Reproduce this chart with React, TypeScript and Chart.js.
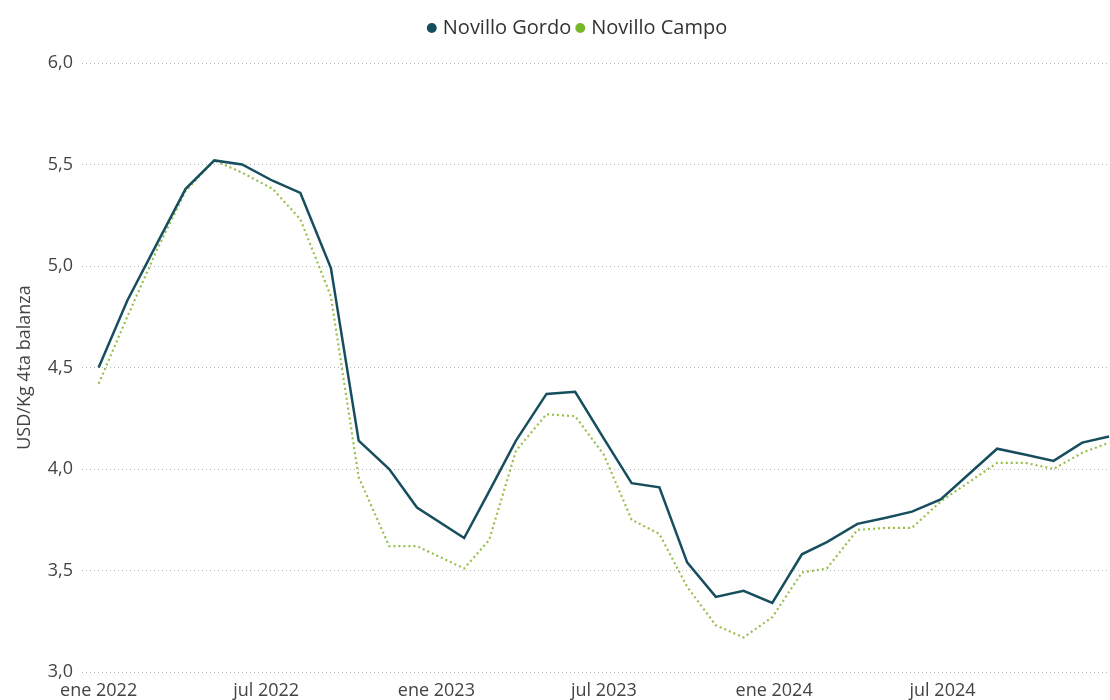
import React, { useEffect, useRef } from "react";
import { Chart, registerables } from "chart.js";

Chart.register(...registerables);

const pointDates = [
  "2022-01-01", "2022-02-01", "2022-03-05", "2022-04-05", "2022-05-06", "2022-06-05",
  "2022-07-08", "2022-08-07", "2022-09-09", "2022-10-09", "2022-11-11", "2022-12-11",
  "2023-01-31", "2023-02-27", "2023-03-28", "2023-04-30", "2023-05-31", "2023-07-01",
  "2023-07-31", "2023-08-30", "2023-09-29", "2023-10-30", "2023-11-29", "2023-12-30",
  "2024-01-31", "2024-02-27", "2024-03-31", "2024-05-01", "2024-05-29", "2024-06-29",
  "2024-08-29", "2024-09-29", "2024-10-29", "2024-11-29", "2024-12-28",
];

const novilloGordo = [
  4.50, 4.83, 5.11, 5.38, 5.52, 5.50, 5.42, 5.36, 4.99, 4.14, 4.00, 3.81,
  3.66, 3.89, 4.14, 4.37, 4.38, 4.15, 3.93, 3.91, 3.54, 3.37, 3.40, 3.34,
  3.58, 3.64, 3.73, 3.76, 3.79, 3.85, 4.10, 4.07, 4.04, 4.13, 4.16,
];

const novilloCampo = [
  4.42, 4.75, 5.08, 5.37, 5.52, 5.46, 5.38, 5.23, 4.85, 3.96, 3.62, 3.62,
  3.51, 3.65, 4.09, 4.27, 4.26, 4.07, 3.75, 3.68, 3.42, 3.23, 3.17, 3.27,
  3.49, 3.51, 3.70, 3.71, 3.71, 3.84, 4.03, 4.03, 4.00, 4.08, 4.13,
];

const seriesNames = ["Novillo Gordo", "Novillo Campo"];
const tickDates = ["2022-01-01", "2022-07-01", "2023-01-01", "2023-07-01", "2024-01-01", "2024-07-01"];
const tickLabels = ["ene 2022", "jul 2022", "ene 2023", "jul 2023", "ene 2024", "jul 2024"];
const axisStart = "2021-12-14";
const axisEnd = "2024-12-29";
const yTitle = "USD/Kg 4ta balanza";

const GORDO = "#174e5e";
const CAMPO = "#97bf4a";
const CAMPO_DOT = "#76b82a";
const FONT = "'Open Sans', 'Noto Sans', sans-serif";

const base = Date.UTC(2022, 0, 1);
const toDay = (s: string) => {
  const [y, m, d] = s.split("-").map(Number);
  return Math.round((Date.UTC(y, m - 1, d) - base) / 86400000);
};

const legendTweak = {
  id: "legendTweak",
  beforeInit(chart: any) {
    const lg = chart.legend;
    if (!lg) return;
    const orig = lg.fit.bind(lg);
    lg.fit = function () {
      orig();
      this.height += 15;
    };
  },
  afterLayout(chart: any) {
    const lg = chart.legend;
    if (!lg) return;
    lg.left += 24;
    lg.right += 24;
  },
};

export default function App() {
  const ref = useRef<HTMLCanvasElement | null>(null);
  useEffect(() => {
    document.body.style.margin = "0";
    const ctx = ref.current;
    if (!ctx) return;
    const xs = pointDates.map(toDay);
    const tickDays = tickDates.map(toDay);
    const chart = new Chart(ctx, {
      type: "line",
      plugins: [legendTweak],
      data: {
        datasets: [
          {
            label: seriesNames[0],
            data: xs.map((x, i) => ({ x, y: novilloGordo[i] })),
            borderColor: GORDO,
            backgroundColor: GORDO,
            borderWidth: 2.5,
            pointRadius: 0,
            tension: 0,
          },
          {
            label: seriesNames[1],
            data: xs.map((x, i) => ({ x, y: novilloCampo[i] })),
            borderColor: CAMPO,
            backgroundColor: CAMPO,
            borderWidth: 2.2,
            borderDash: [2, 3],
            pointRadius: 0,
            tension: 0,
          },
        ],
      },
      options: {
        animation: false,
        responsive: false,
        layout: { padding: { top: 10, left: 0, right: 0, bottom: 0 } },
        plugins: {
          tooltip: { enabled: false },
          legend: {
            display: true,
            position: "top",
            labels: {
              font: { family: FONT, size: 20 },
              color: "#333",
              usePointStyle: true,
              boxWidth: 2,
              boxHeight: 7,
              padding: 8,
              generateLabels: (c: any) =>
                c.data.datasets.map((ds: any, i: number) => ({
                  text: ds.label,
                  fillStyle: i === 0 ? GORDO : CAMPO_DOT,
                  strokeStyle: i === 0 ? GORDO : CAMPO_DOT,
                  lineWidth: 0,
                  pointStyle: "circle",
                  hidden: false,
                  datasetIndex: i,
                  fontColor: "#333",
                })),
            },
          },
        },
        scales: {
          x: {
            type: "linear",
            min: toDay(axisStart),
            max: toDay(axisEnd),
            grid: { display: false, drawTicks: false },
            border: { display: false },
            afterBuildTicks: (scale: any) => {
              scale.ticks = tickDays.map((v) => ({ value: v }));
            },
            afterFit: (scale: any) => {
              scale.height = 28;
            },
            ticks: {
              autoSkip: false,
              maxRotation: 0,
              padding: 8,
              color: "#444",
              font: { family: FONT, size: 18 },
              callback: (v: any) => {
                const idx = tickDays.indexOf(Number(v));
                return idx >= 0 ? tickLabels[idx] : "";
              },
            },
          },
          y: {
            min: 3,
            max: 6,
            afterFit: (scale: any) => {
              scale.width = 82;
            },
            grid: {
              color: "#b4b4b4",
              lineWidth: 1,
              drawTicks: false,
            },
            border: { display: false, dash: [1, 3] },
            ticks: {
              stepSize: 0.5,
              padding: 9,
              color: "#444",
              font: { family: FONT, size: 18 },
              callback: (v: any) => Number(v).toFixed(1).replace(".", ","),
            },
            title: {
              display: true,
              text: yTitle,
              color: "#444",
              font: { family: FONT, size: 18 },
              padding: { top: 14, bottom: 0 },
            },
          },
        },
      },
    });
    return () => chart.destroy();
  }, []);
  return (
    <div style={{ width: 1110, height: 700 }}>
      <canvas ref={ref} width={1110} height={700} />
    </div>
  );
}
